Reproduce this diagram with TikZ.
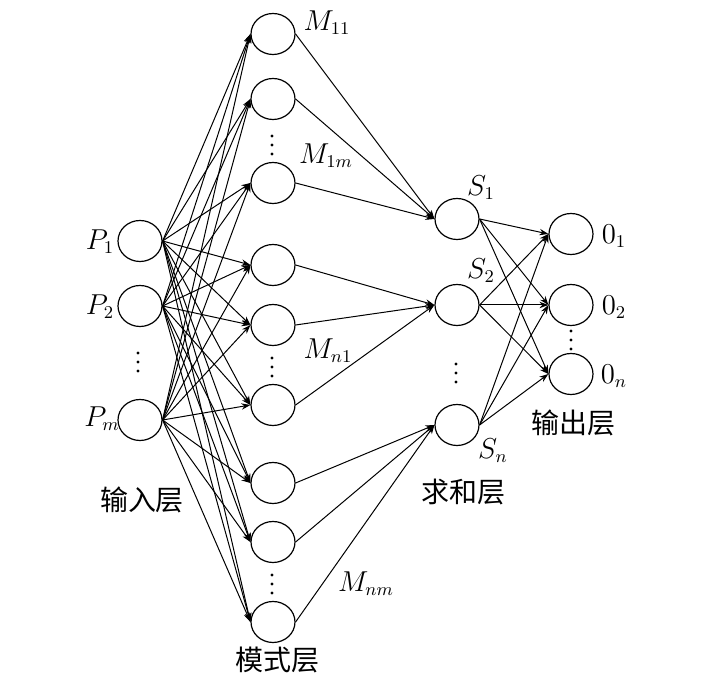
\documentclass[tikz,border=0pt]{standalone}
\usepackage{fontspec}
\newfontfamily\cjk{Noto Sans CJK SC}
\usetikzlibrary{arrows.meta,shapes.geometric}
\tikzset{%
  neuron/.style={draw, ellipse, line width=0.6pt, minimum width=22pt, minimum height=20.5pt, inner sep=0pt},
  conn/.style={line width=0.5pt, -{Stealth[length=4.5pt, width=3.2pt]}},
  lbl/.style={font=\fontsize{13.5}{15}\selectfont, inner sep=0pt},
  layer/.style={font=\cjk\fontsize{14}{16}\selectfont, inner sep=0pt},
  threedots/.pic={\foreach \k in {-9,0,9} \fill (0,\k) circle (1.7);},
}

\begin{document}
\begin{tikzpicture}[x=0.5pt, y=-0.5pt]
    \useasboundingbox (0,0) rectangle (709,679);

    % input layer
    \node[neuron] (P1) at (140,241) {};
    \node[neuron] (P2) at (140,306) {};
    \node[neuron] (Pm) at (140,420) {};
    \pic at (138,362) {threedots};

    % pattern layer
    \node[neuron] (M1) at (273,34) {};
    \node[neuron] (M2) at (273,99) {};
    \node[neuron] (M3) at (273,183) {};
    \node[neuron] (M4) at (273,265) {};
    \node[neuron] (M5) at (273,325) {};
    \node[neuron] (M6) at (273,405) {};
    \node[neuron] (M7) at (273,483) {};
    \node[neuron] (M8) at (273,542) {};
    \node[neuron] (M9) at (273,622) {};
    \pic at (272,145) {threedots};
    \pic at (272,367) {threedots};
    \pic at (272,584) {threedots};

    % summation layer
    \node[neuron] (S1) at (457,219) {};
    \node[neuron] (S2) at (457,305) {};
    \node[neuron] (Sn) at (457,425) {};
    \pic at (456,373) {threedots};

    % output layer
    \node[neuron] (O1) at (571,234) {};
    \node[neuron] (O2) at (571,305) {};
    \node[neuron] (On) at (571,374) {};
    \pic at (571,340) {threedots};

    %connections
    \foreach \i in {P1,P2,Pm}
      \foreach \j in {1,...,9}
        \draw[conn] (\i.east) -- (M\j.west);
    \foreach \j/\s in {1/S1,2/S1,3/S1,4/S2,5/S2,6/S2,7/Sn,8/Sn,9/Sn}
      \draw[conn] (M\j.east) -- (\s.west);
    \foreach \s in {S1,S2,Sn}
      \foreach \o in {O1,O2,On}
        \draw[conn] (\s.east) -- (\o.west);

    % labels
    \node[lbl] at (100,242) {$P_1$};
    \node[lbl] at (100,307) {$P_2$};
    \node[lbl] at (102,419) {$P_m$};
    \node[lbl] at (327,23) {$M_{11}$};
    \node[lbl] at (326,156) {$M_{1m}$};
    \node[lbl] at (328,351) {$M_{n1}$};
    \node[lbl] at (366,584) {$M_{nm}$};
    \node[lbl] at (481,188) {$S_1$};
    \node[lbl] at (481,271) {$S_2$};
    \node[lbl] at (493,451) {$S_n$};
    \node[lbl] at (614,236) {$0_1$};
    \node[lbl] at (614,307) {$0_2$};
    \node[lbl] at (614,376) {$0_n$};
    \node[layer] at (142,500) {输入层};
    \node[layer] at (277,660) {模式层};
    \node[layer] at (464,492) {求和层};
    \node[layer] at (573,423) {输出层};

\end{tikzpicture}
\end{document}
